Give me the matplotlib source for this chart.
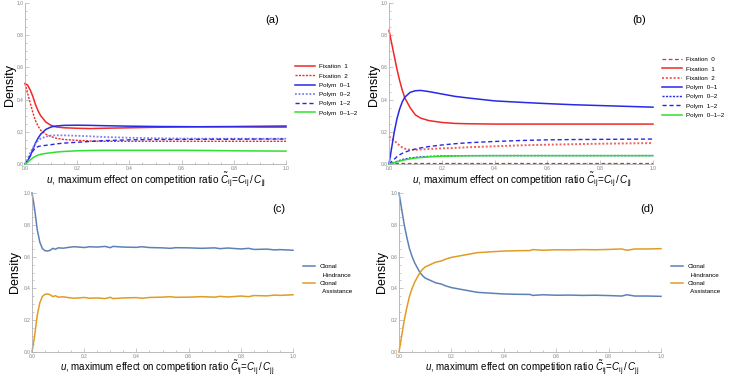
import matplotlib
matplotlib.use("Agg")
import matplotlib.pyplot as plt
from matplotlib.lines import Line2D
from matplotlib.ticker import MultipleLocator

plt.rcParams['font.family'] = ['Liberation Sans', 'DejaVu Sans']
plt.rcParams['mathtext.fontset'] = 'custom'
plt.rcParams['mathtext.rm'] = 'Liberation Sans'
plt.rcParams['mathtext.it'] = 'Liberation Sans:italic'

# ---- panel (a) / (b) data ----
u_ab = [0, 0.01, 0.02, 0.03, 0.04, 0.05, 0.06, 0.08, 0.10, 0.12, 0.15,
        0.2, 0.25, 0.3, 0.4, 0.5, 0.6, 0.7, 0.8, 0.9, 1.0]

a_fix1 = [0.50, 0.49, 0.46, 0.42, 0.37, 0.33, 0.30, 0.26, 0.24, 0.23, 0.225,
          0.222, 0.22, 0.222, 0.225, 0.228, 0.23, 0.232, 0.233, 0.235, 0.237]
a_fix2 = [0.50, 0.44, 0.38, 0.32, 0.27, 0.235, 0.21, 0.185, 0.17, 0.16, 0.152,
          0.147, 0.143, 0.141, 0.141, 0.141, 0.141, 0.141, 0.141, 0.141, 0.141]
a_p01 = [0, 0.02, 0.05, 0.09, 0.13, 0.16, 0.185, 0.215, 0.23, 0.236, 0.24,
         0.241, 0.24, 0.238, 0.235, 0.233, 0.232, 0.231, 0.231, 0.23, 0.23]
a_p02 = [0, 0.03, 0.07, 0.10, 0.125, 0.145, 0.158, 0.17, 0.177, 0.178, 0.178,
         0.175, 0.172, 0.168, 0.163, 0.16, 0.158, 0.157, 0.157, 0.157, 0.157]
a_p12 = [0, 0.02, 0.05, 0.08, 0.10, 0.108, 0.112, 0.116, 0.12, 0.125, 0.13,
         0.135, 0.14, 0.145, 0.15, 0.152, 0.153, 0.154, 0.154, 0.155, 0.155]
a_p012 = [0, 0.01, 0.025, 0.038, 0.048, 0.055, 0.06, 0.066, 0.07, 0.074, 0.078,
          0.082, 0.084, 0.085, 0.085, 0.085, 0.085, 0.084, 0.082, 0.081, 0.08]

b_fix0 = [0.004, 0.004, 0.004, 0.003, 0.003, 0.003, 0.003, 0.003, 0.003, 0.003, 0.003,
          0.003, 0.003, 0.003, 0.003, 0.003, 0.003, 0.003, 0.003, 0.003, 0.003]
b_fix1 = [0.83, 0.75, 0.67, 0.59, 0.52, 0.46, 0.41, 0.35, 0.305, 0.285, 0.27,
          0.258, 0.252, 0.25, 0.248, 0.248, 0.248, 0.248, 0.248, 0.248, 0.248]
b_fix2 = [0.17, 0.16, 0.145, 0.13, 0.115, 0.103, 0.095, 0.088, 0.088, 0.09, 0.093,
          0.097, 0.10, 0.104, 0.11, 0.116, 0.12, 0.123, 0.126, 0.128, 0.13]
b_p01 = [0, 0.10, 0.20, 0.28, 0.34, 0.385, 0.415, 0.445, 0.455, 0.457, 0.45,
         0.435, 0.42, 0.41, 0.392, 0.383, 0.375, 0.368, 0.363, 0.358, 0.353]
b_p02 = [0, 0.005, 0.01, 0.016, 0.022, 0.027, 0.031, 0.037, 0.041, 0.044, 0.047,
         0.05, 0.051, 0.052, 0.052, 0.052, 0.052, 0.052, 0.052, 0.052, 0.052]
b_p12 = [0, 0.015, 0.03, 0.045, 0.057, 0.066, 0.073, 0.085, 0.093, 0.10, 0.108,
         0.118, 0.126, 0.132, 0.14, 0.146, 0.15, 0.152, 0.153, 0.154, 0.155]
b_p012 = [0, 0.004, 0.008, 0.013, 0.018, 0.022, 0.026, 0.032, 0.037, 0.04, 0.044,
          0.048, 0.05, 0.051, 0.052, 0.052, 0.052, 0.052, 0.052, 0.052, 0.052]

# ---- panel (c) data ----
u_c = [0, 0.01, 0.02, 0.03, 0.04, 0.05, 0.06, 0.07, 0.08, 0.09, 0.10, 0.12, 0.14,
       0.16, 0.18, 0.2, 0.22, 0.25, 0.28, 0.3, 0.31, 0.35, 0.4, 0.42, 0.45, 0.5,
       0.53, 0.55, 0.6, 0.65, 0.7, 0.72, 0.75, 0.8, 0.83, 0.85, 0.9, 0.93, 0.95, 1.0]
c_hind = [1.0, 0.90, 0.77, 0.69, 0.65, 0.637, 0.635, 0.64, 0.652, 0.646, 0.655, 0.653, 0.658,
          0.662, 0.66, 0.657, 0.662, 0.66, 0.664, 0.656, 0.664, 0.66, 0.658, 0.662, 0.657, 0.655,
          0.652, 0.656, 0.655, 0.652, 0.655, 0.65, 0.654, 0.648, 0.652, 0.645, 0.647, 0.642, 0.644, 0.64]
c_assist = [0.0, 0.10, 0.23, 0.31, 0.35, 0.363, 0.365, 0.36, 0.348, 0.354, 0.345, 0.347, 0.342,
            0.338, 0.34, 0.343, 0.338, 0.34, 0.336, 0.344, 0.336, 0.34, 0.342, 0.338, 0.343, 0.345,
            0.348, 0.344, 0.345, 0.348, 0.345, 0.35, 0.346, 0.352, 0.348, 0.355, 0.353, 0.358, 0.356, 0.36]

# ---- panel (d) data ----
u_d = [0, 0.01, 0.02, 0.03, 0.04, 0.05, 0.06, 0.07, 0.08, 0.09, 0.10, 0.12, 0.14,
       0.16, 0.18, 0.2, 0.25, 0.3, 0.35, 0.4, 0.45, 0.5, 0.51, 0.55, 0.6, 0.65,
       0.7, 0.75, 0.8, 0.85, 0.87, 0.9, 0.95, 1.0]
d_hind = [1.0, 0.90, 0.80, 0.72, 0.65, 0.60, 0.56, 0.53, 0.50, 0.48, 0.465, 0.45, 0.435,
          0.428, 0.415, 0.405, 0.39, 0.375, 0.37, 0.365, 0.363, 0.362, 0.356, 0.36, 0.357, 0.358,
          0.356, 0.357, 0.355, 0.352, 0.36, 0.352, 0.352, 0.35]
d_assist = [0.0, 0.10, 0.20, 0.28, 0.35, 0.40, 0.44, 0.47, 0.50, 0.52, 0.535, 0.55, 0.565,
            0.572, 0.585, 0.595, 0.61, 0.625, 0.63, 0.635, 0.637, 0.638, 0.644, 0.64, 0.643, 0.642,
            0.644, 0.643, 0.645, 0.648, 0.64, 0.648, 0.648, 0.65]

W, H = 732, 378
fig = plt.figure(figsize=(W / 100, H / 100), dpi=100)


def make_ax(left, right, top, bottom):
    ax = fig.add_axes([left / W, 1 - bottom / H, (right - left) / W, (bottom - top) / H])
    ax.set_xlim(0, 1)
    ax.set_ylim(0, 1)
    for s in ['top', 'right']:
        ax.spines[s].set_visible(False)
    for s in ['left', 'bottom']:
        ax.spines[s].set_color('#b0b0b0')
        ax.spines[s].set_linewidth(0.6)
    ax.xaxis.set_major_locator(MultipleLocator(0.2))
    ax.yaxis.set_major_locator(MultipleLocator(0.2))
    ax.xaxis.set_minor_locator(MultipleLocator(0.05))
    ax.yaxis.set_minor_locator(MultipleLocator(0.05))
    ax.tick_params(which='both', direction='in', color='#b0b0b0', width=0.5,
                   labelsize=3.5, labelcolor='#808080', pad=1.2)
    ax.tick_params(which='major', length=3)
    ax.tick_params(which='minor', length=1.5)
    ax.xaxis.set_major_formatter(plt.FuncFormatter(lambda v, p: f"{v:.1f}"))
    ax.yaxis.set_major_formatter(plt.FuncFormatter(lambda v, p: f"{v:.1f}"))
    return ax


def clonal_legend(ax, l1, l2, x, y):
    blank = Line2D([], [], color='none')
    ax.legend([l1, blank, l2, blank], ['Clonal', '  Hindrance', 'Clonal', '  Assistance'],
              loc='upper left', bbox_to_anchor=(x / W, 1 - y / H), bbox_transform=fig.transFigure,
              frameon=False, fontsize=4.5, handlelength=1.9, handletextpad=0.7,
              labelspacing=0.45, borderpad=0, borderaxespad=0)


xlab = r"$u$, maximum effect on competition ratio $\tilde{C}_{\mathrm{ij}}\!=\!C_{\mathrm{ij}}\,/\,C_{\mathrm{jj}}$"

RED = '#f02828'
BLUE = '#2828e8'
LBLUE = '#8080f0'
GREEN = '#30e030'
C1 = '#5e81b5'
C2 = '#e09c24'

# (a)
ax = make_ax(25, 286, 3, 164)
ax.plot(u_ab, a_fix1, color=RED, lw=1.1, label='Fixation  1', clip_on=False)
ax.plot(u_ab, a_fix2, color=RED, lw=1.0, ls=(0, (1.5, 1)), label='Fixation  2', clip_on=False)
ax.plot(u_ab, a_p01, color=BLUE, lw=1.1, label='Polym  0\u20131', clip_on=False)
ax.plot(u_ab, a_p02, color=LBLUE, lw=1.3, ls=(0, (1, 1)), label='Polym  0\u20132', clip_on=False)
ax.plot(u_ab, a_p12, color=BLUE, lw=1.0, ls=(0, (3, 2)), label='Polym  1\u20132', clip_on=False)
ax.plot(u_ab, a_p012, color=GREEN, lw=1.1, label='Polym  0\u20131\u20132', clip_on=False)
fig.text(10 / W, 1 - 85 / H, 'Density', rotation=90, fontsize=9, ha='center', va='center')
fig.text(156 / W, 1 - 184 / H, xlab, fontsize=7.2, ha='center', va='baseline')
fig.text(272 / W, 1 - 20 / H, '(a)', fontsize=8, ha='center', va='center')
ax.legend(loc='upper left', bbox_to_anchor=(295 / W, 1 - 64 / H), bbox_transform=fig.transFigure,
          frameon=False, fontsize=4.5, handlelength=3.2, handletextpad=0.7,
          labelspacing=0.62, borderpad=0, borderaxespad=0)

# (b)
ax = make_ax(389, 653, 3, 164)
ax.plot(u_ab, b_fix0, color=RED, lw=0.9, ls=(0, (3, 2)), label='Fixation  0', clip_on=False)
ax.plot(u_ab, b_fix1, color=RED, lw=1.1, label='Fixation  1', clip_on=False)
ax.plot(u_ab, b_fix2, color='#f06060', lw=1.4, ls=(0, (1, 1)), label='Fixation  2', clip_on=False)
ax.plot(u_ab, b_p01, color=BLUE, lw=1.1, label='Polym  0\u20131', clip_on=False)
ax.plot(u_ab, b_p02, color=BLUE, lw=1.0, ls=(0, (1.5, 1)), label='Polym  0\u20132', clip_on=False)
ax.plot(u_ab, b_p12, color=BLUE, lw=1.0, ls=(0, (3, 2)), label='Polym  1\u20132', clip_on=False)
ax.plot(u_ab, b_p012, color=GREEN, lw=1.1, label='Polym  0\u20131\u20132', clip_on=False)
fig.text(374 / W, 1 - 85 / H, 'Density', rotation=90, fontsize=9, ha='center', va='center')
fig.text(522 / W, 1 - 184 / H, xlab, fontsize=7.2, ha='center', va='baseline')
fig.text(639 / W, 1 - 20 / H, '(b)', fontsize=8, ha='center', va='center')
ax.legend(loc='upper left', bbox_to_anchor=(662 / W, 1 - 57 / H), bbox_transform=fig.transFigure,
          frameon=False, fontsize=4.5, handlelength=3.2, handletextpad=0.7,
          labelspacing=0.62, borderpad=0, borderaxespad=0)

# (c)
ax = make_ax(32, 293, 193, 352)
h1, = ax.plot(u_c, c_hind, color=C1, lw=1.1, clip_on=False)
h2, = ax.plot(u_c, c_assist, color=C2, lw=1.1, clip_on=False)
fig.text(15 / W, 1 - 272 / H, 'Density', rotation=90, fontsize=9, ha='center', va='center')
fig.text(167 / W, 1 - 372 / H, xlab, fontsize=7, ha='center', va='baseline')
fig.text(279 / W, 1 - 209 / H, '(c)', fontsize=8, ha='center', va='center')
clonal_legend(ax, h1, h2, 303, 264)

# (d)
ax = make_ax(399, 661, 193, 352)
h1, = ax.plot(u_d, d_hind, color=C1, lw=1.1, clip_on=False)
h2, = ax.plot(u_d, d_assist, color=C2, lw=1.1, clip_on=False)
fig.text(382 / W, 1 - 272 / H, 'Density', rotation=90, fontsize=9, ha='center', va='center')
fig.text(532 / W, 1 - 372 / H, xlab, fontsize=7, ha='center', va='baseline')
fig.text(647 / W, 1 - 209 / H, '(d)', fontsize=8, ha='center', va='center')
clonal_legend(ax, h1, h2, 671, 264)

fig.savefig('out.png', dpi=100)
